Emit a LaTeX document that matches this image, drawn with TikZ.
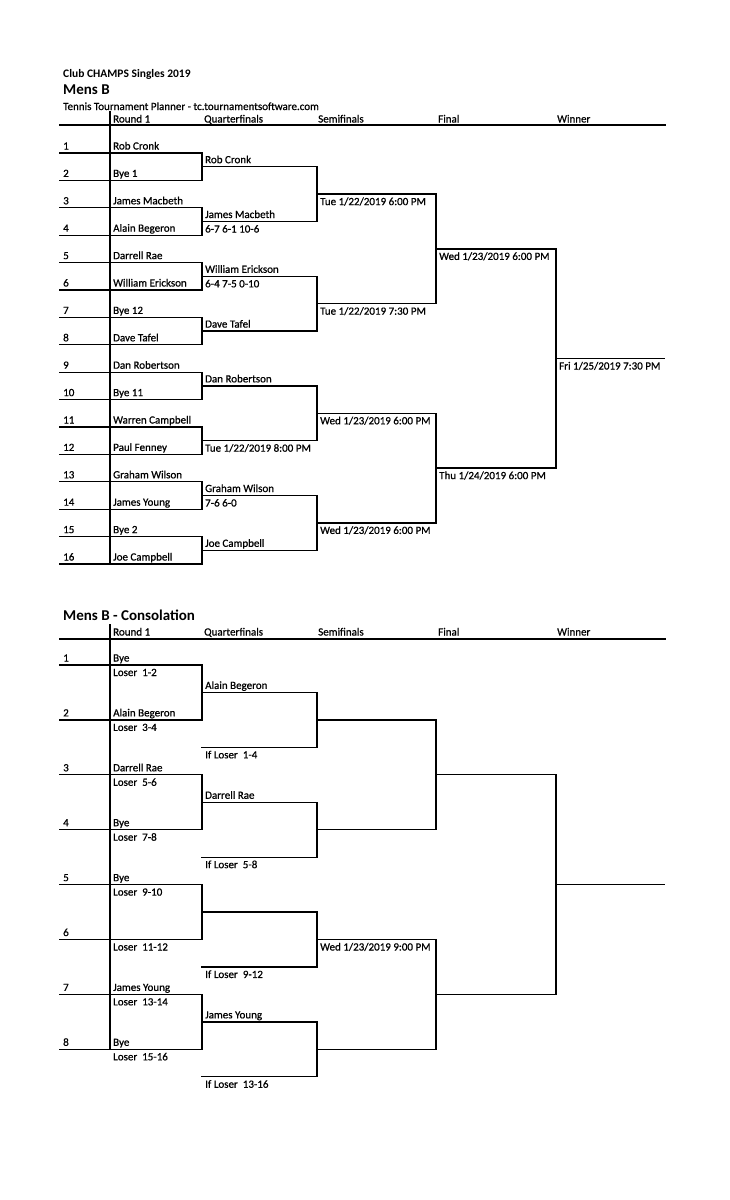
\documentclass[tikz,border=0pt]{standalone}
\usepackage{fontspec}
\setmainfont{Carlito}
\newfontfamily\medfont{Carlito}[FakeBold=0.7]
\usetikzlibrary{calc}
\newcommand\txt{\medfont\fontsize{11}{13}\selectfont}
\newcommand\ttlfont{\fontsize{11.5}{13}\selectfont\bfseries}
\newcommand\hdbig{\fontsize{15}{17}\selectfont\bfseries}
\begin{document}
\begin{tikzpicture}[x=1pt,y=-1pt,
  ln/.style={line width=1.3pt, line cap=rect},
  abv/.style={anchor=base west, inner sep=0pt, xshift=3pt, yshift=3.5pt, font=\txt},
  blw/.style={anchor=base west, inner sep=0pt, xshift=3pt, yshift=-11pt, font=\txt},
  hd/.style={anchor=base west, inner sep=0pt, font=\txt}]
\useasboundingbox (0,0) rectangle (729,1200);
\fill[white] (0,0) rectangle (729,1200);

% ---------------- Main draw ----------------
\node[anchor=base west,inner sep=0pt,font=\ttlfont] (t1) at (63,77) {Club CHAMPS Singles 2019};
\node[anchor=base west,inner sep=0pt,font=\hdbig] (t2) at (63,94) {Mens B};
\node[hd] (t3) at (63,110) {Tennis Tournament Planner - tc.tournamentsoftware.com};

\node[hd] (h1) at (113,122.5) {Round 1};
\node[hd] (h2) at (204,122.5) {Quarterfinals};
\node[hd] (h3) at (318,122.5) {Semifinals};
\node[hd] (h4) at (438,122.5) {Final};
\node[hd] (h5) at (557,122.5) {Winner};
\coordinate (hL) at (60,125); \coordinate (hR) at (665,125);
\draw[ln] (hL) -- (hR);
\coordinate (vT) at (110,112); \coordinate (vB) at (110,564);
\draw[ln] (vT) -- (vB);

\foreach \k in {1,...,16}{
  \pgfmathsetmacro\yy{153+(\k-1)*27.4}
  \coordinate (mL\k) at (60,\yy);
  \coordinate (mM\k) at (110,\yy);
  \coordinate (mR\k) at (202,\yy);
  \draw[ln] (mL\k) -- (mR\k);
  \node[abv] (mn\k) at (mL\k) {\k};
}
\foreach \j in {1,...,8}{
  \pgfmathtruncatemacro\a{2*\j-1}
  \pgfmathtruncatemacro\b{2*\j}
  \draw[ln] (mR\a) -- (mR\b);
  \coordinate (mq\j) at ($(mR\a)!0.5!(mR\b)$);
  \coordinate (mqR\j) at ($(mq\j)+(115,0)$);
  \draw[ln] (mq\j) -- (mqR\j);
}
\foreach \j in {1,...,4}{
  \pgfmathtruncatemacro\a{2*\j-1}
  \pgfmathtruncatemacro\b{2*\j}
  \draw[ln] (mqR\a) -- (mqR\b);
  \coordinate (ms\j) at ($(mqR\a)!0.5!(mqR\b)$);
  \coordinate (msR\j) at ($(ms\j)+(119,0)$);
  \draw[ln] (ms\j) -- (msR\j);
}
\foreach \j in {1,2}{
  \pgfmathtruncatemacro\a{2*\j-1}
  \pgfmathtruncatemacro\b{2*\j}
  \draw[ln] (msR\a) -- (msR\b);
  \coordinate (mf\j) at ($(msR\a)!0.5!(msR\b)$);
  \coordinate (mfR\j) at ($(mf\j)+(120,0)$);
  \draw[ln] (mf\j) -- (mfR\j);
}
\draw[ln] (mfR1) -- (mfR2);
\coordinate (mw) at ($(mfR1)!0.5!(mfR2)$);
\coordinate (mwR) at ($(mw)+(108,0)$);
\draw[ln] (mw) -- (mwR);

\foreach \k/\n in {1/Rob Cronk,2/Bye 1,3/James Macbeth,4/Alain Begeron,5/Darrell Rae,6/William Erickson,7/Bye 12,8/Dave Tafel,9/Dan Robertson,10/Bye 11,11/Warren Campbell,12/Paul Fenney,13/Graham Wilson,14/James Young,15/Bye 2,16/Joe Campbell}{
  \node[abv] (mnm\k) at (mM\k) {\n};
}
\foreach \j/\n in {1/Rob Cronk,2/James Macbeth,3/William Erickson,4/Dave Tafel,5/Dan Robertson,7/Graham Wilson,8/Joe Campbell}{
  \node[abv] (mqa\j) at (mq\j) {\n};
}
\node[blw] (mqb2) at (mq2) {6-7 6-1 10-6};
\node[blw] (mqb3) at (mq3) {6-4 7-5 0-10};
\node[blw] (mqb6) at (mq6) {Tue 1/22/2019 8:00 PM};
\node[blw] (mqb7) at (mq7) {7-6 6-0};
\node[blw] (msb1) at (ms1) {Tue 1/22/2019 6:00 PM};
\node[blw] (msb2) at (ms2) {Tue 1/22/2019 7:30 PM};
\node[blw] (msb3) at (ms3) {Wed 1/23/2019 6:00 PM};
\node[blw] (msb4) at (ms4) {Wed 1/23/2019 6:00 PM};
\node[blw] (mfb1) at (mf1) {Wed 1/23/2019 6:00 PM};
\node[blw] (mfb2) at (mf2) {Thu 1/24/2019 6:00 PM};
\node[blw] (mwb) at (mw) {Fri 1/25/2019 7:30 PM};

% ---------------- Consolation ----------------
\node[anchor=base west,inner sep=0pt,font=\hdbig] (c2) at (63,620) {Mens B - Consolation};
\node[hd] (ch1) at (113,635.5) {Round 1};
\node[hd] (ch2) at (204,635.5) {Quarterfinals};
\node[hd] (ch3) at (318,635.5) {Semifinals};
\node[hd] (ch4) at (438,635.5) {Final};
\node[hd] (ch5) at (557,635.5) {Winner};
\coordinate (chL) at (60,639); \coordinate (chR) at (665,639);
\draw[ln] (chL) -- (chR);
\coordinate (cvT) at (110,625); \coordinate (cvB) at (110,1049);
\draw[ln] (cvT) -- (cvB);

\foreach \k in {1,...,8}{
  \pgfmathsetmacro\yy{665+(\k-1)*54.9}
  \coordinate (cL\k) at (60,\yy);
  \coordinate (cM\k) at (110,\yy);
  \coordinate (cR\k) at (202,\yy);
  \draw[ln] (cL\k) -- (cR\k);
  \node[abv] (cn\k) at (cL\k) {\k};
}
\foreach \j in {1,...,4}{
  \pgfmathtruncatemacro\a{2*\j-1}
  \pgfmathtruncatemacro\b{2*\j}
  \draw[ln] (cR\a) -- (cR\b);
  \coordinate (cq\j) at ($(cR\a)!0.5!(cR\b)$);
  \coordinate (cqR\j) at ($(cq\j)+(115,0)$);
  \draw[ln] (cq\j) -- (cqR\j);
  \coordinate (ci\j) at ($(cq\j)+(0,54.9)$);
  \coordinate (ciR\j) at ($(ci\j)+(115,0)$);
  \draw[ln] (ci\j) -- (ciR\j);
  \draw[ln] (cqR\j) -- (ciR\j);
  \coordinate (cs\j) at ($(cqR\j)!0.5!(ciR\j)$);
  \coordinate (csR\j) at ($(cs\j)+(119,0)$);
  \draw[ln] (cs\j) -- (csR\j);
}
\foreach \j in {1,2}{
  \pgfmathtruncatemacro\a{2*\j-1}
  \pgfmathtruncatemacro\b{2*\j}
  \draw[ln] (csR\a) -- (csR\b);
  \coordinate (cf\j) at ($(csR\a)!0.5!(csR\b)$);
  \coordinate (cfR\j) at ($(cf\j)+(120,0)$);
  \draw[ln] (cf\j) -- (cfR\j);
}
\draw[ln] (cfR1) -- (cfR2);
\coordinate (cw) at ($(cfR1)!0.5!(cfR2)$);
\coordinate (cwR) at ($(cw)+(108,0)$);
\draw[ln] (cw) -- (cwR);

\foreach \k/\n in {1/Bye,2/Alain Begeron,3/Darrell Rae,4/Bye,5/Bye,7/James Young,8/Bye}{
  \node[abv] (cnm\k) at (cM\k) {\n};
}
\foreach \k/\n in {1/1-2,2/3-4,3/5-6,4/7-8,5/9-10,6/11-12,7/13-14,8/15-16}{
  \node[blw] (cls\k) at (cM\k) {Loser\ \ \n};
}
\foreach \j/\n in {1/Alain Begeron,2/Darrell Rae,4/James Young}{
  \node[abv] (cqa\j) at (cq\j) {\n};
}
\foreach \j/\n in {1/1-4,2/5-8,3/9-12,4/13-16}{
  \node[blw] (cib\j) at (ci\j) {If Loser\ \ \n};
}
\node[blw] (csb3) at (cs3) {Wed 1/23/2019 9:00 PM};
\end{tikzpicture}
\end{document}
